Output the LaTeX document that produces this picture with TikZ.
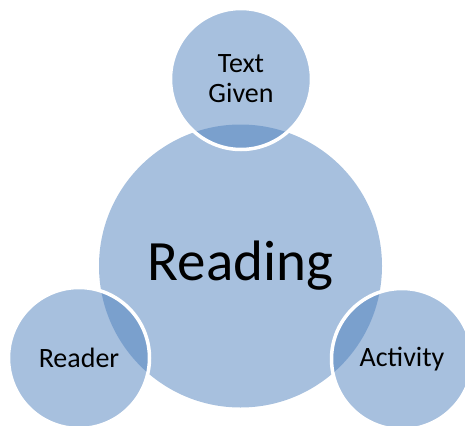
\documentclass[tikz,border=0pt]{standalone}
\usepackage{fontspec}
\setmainfont{Carlito}
\definecolor{accent}{HTML}{4F81BD}
\begin{document}
\begin{tikzpicture}[x=1pt,y=-1pt,
  bubble/.style={circle,inner sep=0pt,fill=accent,fill opacity=0.5,text opacity=1,text=black,align=center},
  small/.style={bubble,minimum size=141pt,draw=white,draw opacity=1,line width=3.5pt,font=\fontsize{28}{30}\selectfont}]
\useasboundingbox (0,0) rectangle (465,425);
\node[bubble,minimum size=283pt,font=\fontsize{57}{60}\selectfont] (big) at (240.5,266) {Reading};
\node[small] (top) at (241,79) {Text\\Given};
\node[small] (left) at (79,358) {Reader};
\node[small] (right) at (402,359) {Activity};
\end{tikzpicture}
\end{document}
